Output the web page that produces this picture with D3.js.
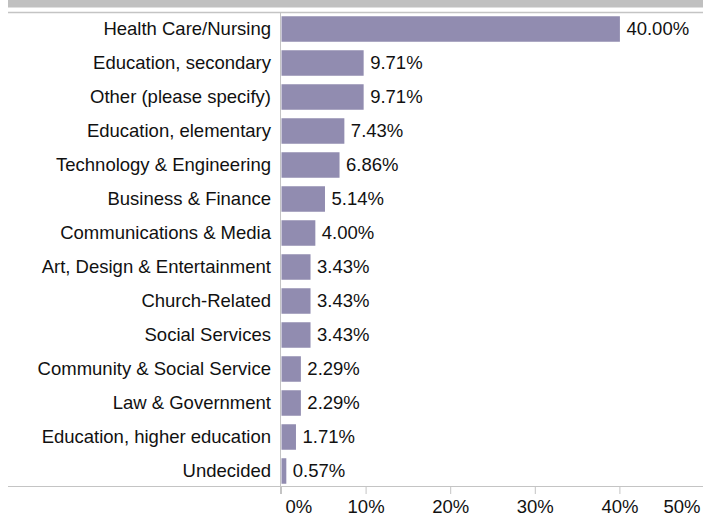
<!DOCTYPE html>
<html>
<head>
<meta charset="utf-8">
<script src="https://cdn.jsdelivr.net/npm/d3@7"></script>
<style>
  body { margin: 0; background: #fff; }
  text { font-family: "Liberation Sans", Arial, Helvetica, sans-serif; fill: #111; }
  .cat { font-size: 18.5px; }
  .val { font-size: 18.5px; }
  .x-axis text { font-size: 18.5px; fill: #111; }
</style>
</head>
<body>
<svg width="703" height="517"></svg>
<script>
const categories = [
  'Health Care/Nursing',
  'Education, secondary',
  'Other (please specify)',
  'Education, elementary',
  'Technology & Engineering',
  'Business & Finance',
  'Communications & Media',
  'Art, Design & Entertainment',
  'Church-Related',
  'Social Services',
  'Community & Social Service',
  'Law & Government',
  'Education, higher education',
  'Undecided'
];
const percents = [40.00, 9.71, 9.71, 7.43, 6.86, 5.14, 4.00, 3.43, 3.43, 3.43, 2.29, 2.29, 1.71, 0.57];
const tickValues = [0, 10, 20, 30, 40, 50];

const svg = d3.select('svg');
const width = +svg.attr('width');
const height = +svg.attr('height');

const data = categories.map((c, i) => ({ category: c, value: percents[i] }));

const axisX = 281;
const xScale = d3.scaleLinear()
  .domain([0, 50])
  .range([axisX, axisX + 423]);

const yScale = d3.scaleBand()
  .domain(categories)
  .range([12, 488])
  .paddingInner(0.25)
  .paddingOuter(0.125);

const lineColor = '#c4c4c4';

// top grey strip
svg.append('rect')
  .attr('x', 8)
  .attr('y', 0)
  .attr('width', width - 8)
  .attr('height', 7.5)
  .attr('fill', '#c0c0c0');

svg.append('line')
  .attr('x1', 8).attr('x2', width)
  .attr('y1', 12.5).attr('y2', 12.5)
  .attr('stroke', lineColor)
  .attr('stroke-width', 1.5);

// bars
svg.selectAll('rect.bar').data(data)
  .enter().append('rect')
    .attr('class', 'bar')
    .attr('x', xScale(0) + 0.5)
    .attr('y', d => yScale(d.category))
    .attr('width', d => xScale(d.value) - xScale(0))
    .attr('height', yScale.bandwidth())
    .attr('fill', '#918cb0');

// value labels
svg.selectAll('text.val').data(data)
  .enter().append('text')
    .attr('class', 'val')
    .attr('x', d => xScale(d.value) + 7)
    .attr('y', d => yScale(d.category) + yScale.bandwidth() / 2)
    .attr('dy', '0.35em')
    .text(d => d.value.toFixed(2) + '%');

// category labels
svg.selectAll('text.cat').data(data)
  .enter().append('text')
    .attr('class', 'cat')
    .attr('x', axisX - 10)
    .attr('y', d => yScale(d.category) + yScale.bandwidth() / 2)
    .attr('dy', '0.35em')
    .attr('text-anchor', 'end')
    .text(d => d.category);

// x axis
const xAxis = d3.axisBottom(xScale)
  .tickValues(tickValues)
  .tickSize(7)
  .tickPadding(10)
  .tickFormat(d => d + '%');

const xAxisG = svg.append('g')
  .attr('class', 'x-axis')
  .attr('transform', 'translate(0,487)')
  .call(xAxis);

xAxisG.select('.domain').remove();
xAxisG.selectAll('.tick line').attr('stroke', lineColor);
xAxisG.selectAll('.tick text')
  .attr('y', 26)
  .attr('dy', 0)
  .attr('text-anchor', d => d === 0 ? 'start' : (d === 50 ? 'end' : 'middle'))
  .attr('x', d => d === 0 ? 4 : (d === 50 ? width - 3 - xScale(50) : 0));

// axis lines
svg.append('line')
  .attr('x1', 8).attr('x2', width)
  .attr('y1', 486.5).attr('y2', 486.5)
  .attr('stroke', lineColor);

svg.append('line')
  .attr('x1', axisX - 0.5).attr('x2', axisX - 0.5)
  .attr('y1', 12).attr('y2', 494)
  .attr('stroke', lineColor);
</script>
</body>
</html>
